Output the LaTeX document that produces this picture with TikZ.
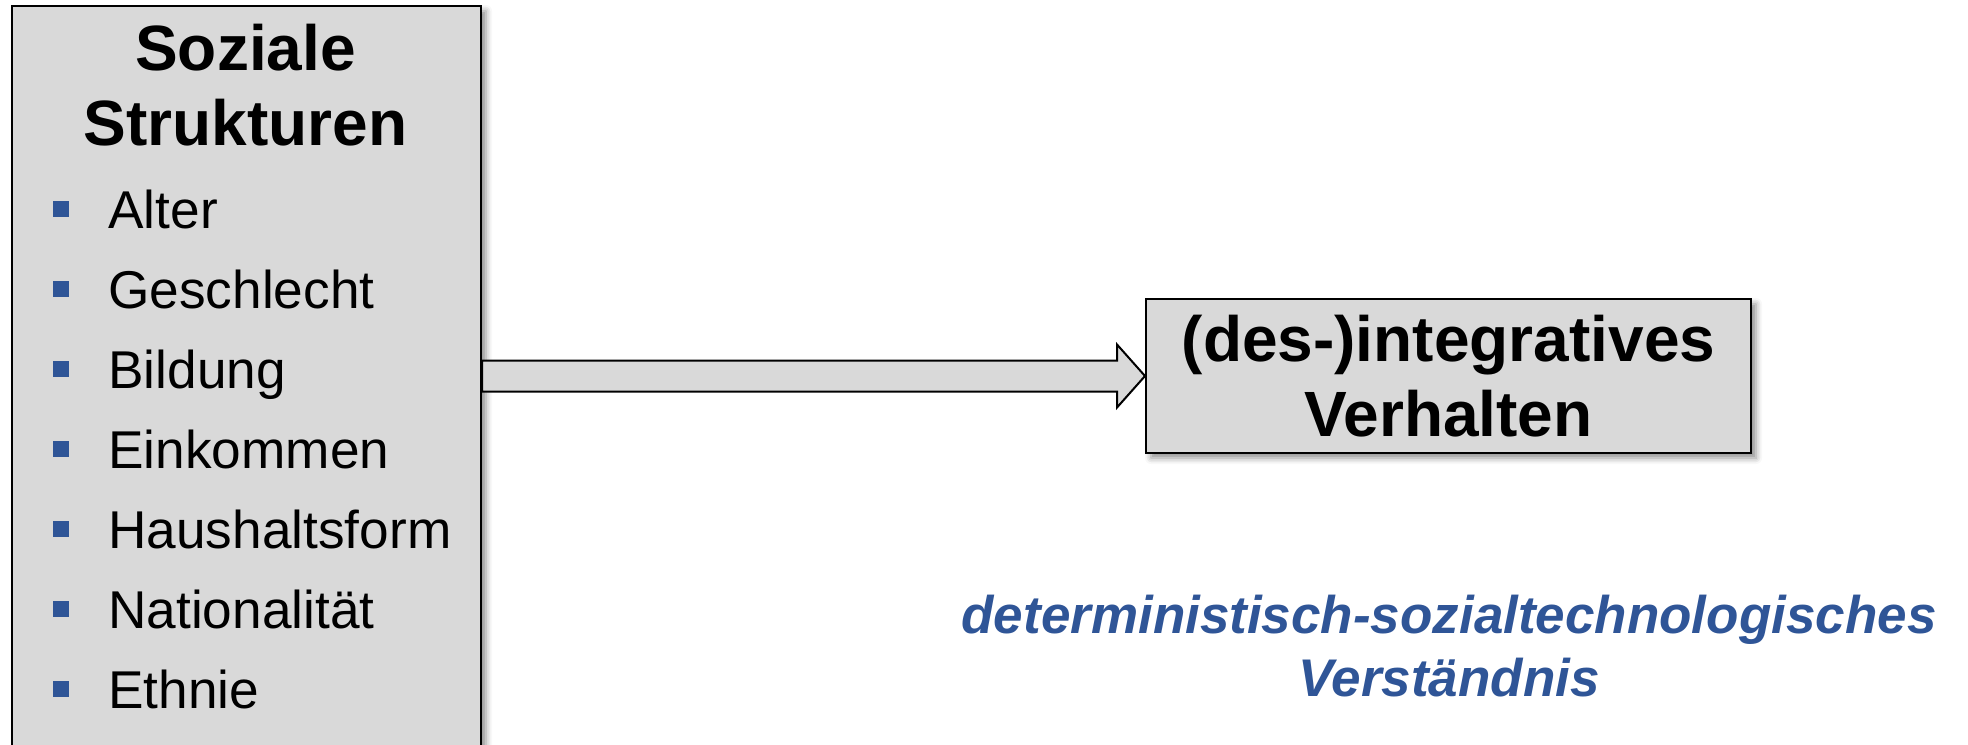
\documentclass[tikz,border=0pt]{standalone}
\usepackage{fontspec}
\setmainfont{Liberation Sans}
\usetikzlibrary{calc,shadows.blur}
\definecolor{boxgray}{RGB}{217,217,217}
\definecolor{ppblue}{RGB}{47,85,151}
\begin{document}
\begin{tikzpicture}[x=0.5pt,y=-0.5pt,
  box/.style={draw=black, line width=1pt, fill=boxgray, inner sep=0pt,
    blur shadow={shadow xshift=2.5pt, shadow yshift=-2.5pt, shadow blur radius=3pt, shadow opacity=45}},
  titletxt/.style={font=\fontsize{32pt}{37.5pt}\selectfont\bfseries, anchor=base, inner sep=0pt},
  itemtxt/.style={font=\fontsize{26.6pt}{30pt}\selectfont, anchor=base west, inner sep=0pt},
  bulletbox/.style={fill=ppblue, minimum size=8pt, inner sep=0pt},
  blockarrow/.style={draw=black, line width=1pt, fill=boxgray, line join=miter},
  notetxt/.style={font=\fontsize{26.5pt}{31.5pt}\selectfont\bfseries\itshape, text=ppblue, align=center, inner sep=0pt}]
\useasboundingbox (0,0) rectangle (1968,744);
\clip (0,0) rectangle (1968,744);
% left box
\node[box, minimum width=234.5pt, minimum height=382pt] (soz) at (246.5,388) {};
\node[titletxt] (t1) at (245.5,70) {Soziale};
\node[titletxt] (t2) at (245.5,145) {Strukturen};
\foreach \t [count=\i from 0] in {Alter,Geschlecht,Bildung,Einkommen,Haushaltsform,Nationalität,Ethnie} {
  \node[bulletbox] (b\i) at (61,{209+80*\i}) {};
  \node[itemtxt] (item\i) at (108,{228+80*\i}) {\t};
}
% right box
\node[box, minimum width=302.5pt, minimum height=77pt, align=center,
  font=\fontsize{32pt}{37.5pt}\selectfont\bfseries] (vb) at (1448.5,376) {(des-)integratives\\Verhalten};
% block arrow
\draw[blockarrow] let \p1=(soz.east |- vb.west), \p2=(vb.west) in
  (\x1,\y1+7.75pt) -- (\x2-14pt,\y1+7.75pt) -- (\x2-14pt,\y1+15.75pt) -- (\p2)
  -- (\x2-14pt,\y1-15.75pt) -- (\x2-14pt,\y1-7.75pt) -- (\x1,\y1-7.75pt) -- cycle;
% note
\node[notetxt] (vs) at (1449,646) {deterministisch-sozialtechnologisches\\Verständnis};
\end{tikzpicture}
\end{document}
